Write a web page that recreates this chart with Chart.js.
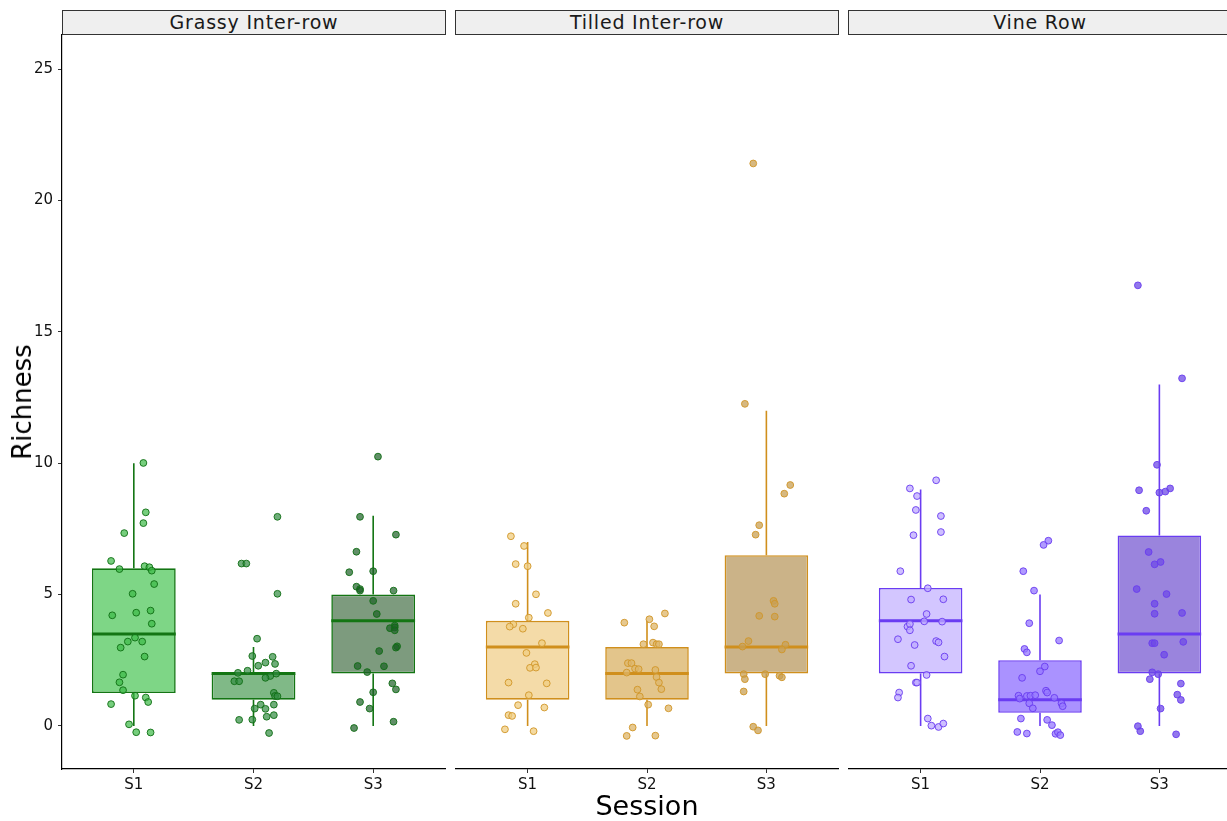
<!DOCTYPE html>
<html>
<head>
<meta charset="utf-8">
<script src="https://cdn.jsdelivr.net/npm/chart.js@4/dist/chart.umd.min.js"></script>
<style>
    body { margin: 0; width: 1227px; height: 821px; overflow: hidden; background: #fff; font-family: "DejaVu Sans", Verdana, sans-serif; position: relative; }
    .panel { position: absolute; top: 20px; height: 785px; }
    .strip { position: absolute; top: 10px; height: 25px; box-sizing: border-box; border: 1px solid #333; background: #efefef; color: #1a1a1a; font-size: 19px; letter-spacing: 0.8px; text-align: center; line-height: 23px; }
    .ytitle { position: absolute; left: 22px; top: 402px; transform: translate(-50%, -50%) rotate(-90deg); font-size: 26px; color: #000; white-space: nowrap; }
    .xtitle { position: absolute; left: 647px; top: 805px; transform: translate(-50%, -50%); font-size: 27px; color: #000; white-space: nowrap; }
</style>
</head>
<body>
<div class="strip" style="left:62px;width:384px">Grassy Inter-row</div>
<div class="strip" style="left:455px;width:384px">Tilled Inter-row</div>
<div class="strip" style="left:848px;width:384px">Vine Row</div>
<div class="panel" style="left:0px;width:450px"><canvas id="grassy"></canvas></div>
<div class="panel" style="left:451px;width:392px"><canvas id="tilled"></canvas></div>
<div class="panel" style="left:844px;width:392px"><canvas id="vine"></canvas></div>
<div class="ytitle">Richness</div>
<div class="xtitle">Session</div>
<script>
const sessions = ['S1', 'S2', 'S3']
const yTicks = [0, 5, 10, 15, 20, 25]

// box stats per session: [lower whisker, q1, median, q3, upper whisker]
const grassyBox = [[0, 1.25, 3.5, 6, 10], [0, 1, 2, 2, 3], [0, 2, 4, 5, 8]]
const tilledBox = [[0, 1, 3, 4, 7], [0, 1, 2, 3, 4], [0, 2, 3, 6.5, 12]]
const vineBox = [[0, 2, 4, 5.25, 9], [0, 0.5, 1, 2.5, 5], [0, 2, 3.5, 7.25, 13]]

// jittered points: [jitter, richness]
const grassyS1 = [[0.08,10.01],[0.10,8.13],[0.08,7.72],[-0.08,7.34],[-0.19,6.28],[-0.12,5.97],[0.09,6.08],[0.13,6.04],[0.15,5.91],[0.17,5.40],[-0.01,5.03],[-0.18,4.21],[0.02,4.31],[0.14,4.39],[0.15,3.89],[0.01,3.36],[-0.05,3.21],[0.07,3.21],[-0.11,2.98],[0.09,2.64],[-0.09,1.95],[-0.12,1.66],[-0.09,1.36],[0.01,1.15],[0.10,1.08],[0.12,0.91],[-0.19,0.83],[-0.04,0.06],[0.02,-0.24],[0.14,-0.25]]
const grassyS2 = [[0.20,7.96],[-0.10,6.18],[-0.06,6.18],[0.20,5.03],[0.03,3.32],[-0.01,2.66],[0.16,2.63],[0.10,2.41],[0.18,2.36],[0.04,2.29],[-0.05,2.10],[-0.13,2.02],[0.19,1.99],[0.14,1.90],[0.10,1.83],[-0.16,1.70],[-0.12,1.70],[0.17,1.26],[0.18,1.14],[0.20,1.13],[0.06,0.81],[0.17,0.81],[0.10,0.65],[0.01,0.66],[0.17,0.41],[0.11,0.35],[-0.12,0.23],[-0.01,0.24],[0.13,-0.27]]
const grassyS3 = [[0.04,10.25],[-0.11,7.96],[0.19,7.28],[-0.14,6.63],[-0.20,5.85],[0.00,5.89],[-0.14,5.30],[-0.11,5.21],[-0.11,5.15],[0.17,5.15],[0.00,4.76],[0.03,4.26],[0.18,3.82],[0.18,3.75],[0.14,3.72],[0.18,3.64],[0.20,3.03],[0.19,2.98],[0.05,2.85],[-0.13,2.28],[0.09,2.27],[-0.05,2.05],[0.16,1.62],[0.19,1.39],[0.00,1.28],[-0.11,0.91],[-0.03,0.66],[0.17,0.16],[-0.16,-0.08]]

const tilledS1 = [[-0.14,7.22],[-0.03,6.85],[-0.10,6.16],[0.00,6.08],[0.07,5.01],[-0.10,4.65],[0.17,4.30],[0.01,4.12],[-0.12,3.87],[-0.15,3.78],[-0.04,3.70],[0.12,3.15],[-0.01,2.78],[0.06,2.35],[0.02,2.21],[0.07,2.22],[-0.16,1.65],[0.16,1.62],[0.01,1.17],[-0.08,0.79],[0.14,0.70],[-0.16,0.41],[-0.13,0.38],[-0.19,-0.13],[0.05,-0.20]]
const tilledS2 = [[-0.19,3.93],[0.02,4.06],[-0.03,3.11],[-0.16,2.39],[-0.13,2.39],[-0.10,2.18],[-0.07,2.16],[-0.17,2.03],[-0.08,1.38],[-0.06,1.12],[0.01,0.81],[-0.12,-0.06],[-0.17,-0.38],[0.15,4.28],[0.06,3.79],[0.05,3.17],[0.08,3.11],[0.10,3.11],[0.07,2.13],[0.08,1.86],[0.10,1.65],[0.12,1.40],[0.18,0.67],[0.07,-0.37]]
const tilledS3 = [[-0.11,21.41],[-0.18,12.26],[0.20,9.17],[0.15,8.84],[-0.06,7.64],[-0.09,7.28],[0.06,4.76],[0.07,4.65],[-0.06,4.19],[0.07,4.16],[-0.15,3.23],[-0.20,3.02],[0.16,3.09],[0.13,2.91],[-0.19,1.97],[-0.18,1.78],[-0.01,1.97],[0.11,1.91],[0.13,1.85],[-0.19,1.31],[-0.11,-0.03],[-0.07,-0.17]]

const vineS1 = [[0.13,9.35],[-0.09,9.04],[-0.03,8.75],[-0.04,8.22],[0.17,7.99],[0.17,7.38],[-0.06,7.26],[-0.17,5.89],[0.06,5.24],[-0.08,4.81],[0.19,4.82],[0.05,4.26],[0.03,3.98],[0.18,3.97],[-0.11,3.78],[-0.09,3.88],[-0.09,3.64],[-0.19,3.30],[0.13,3.23],[0.15,3.18],[-0.05,3.08],[0.20,2.64],[-0.08,2.29],[0.05,1.94],[-0.04,1.65],[-0.03,1.65],[-0.18,1.27],[-0.19,1.08],[0.06,0.28],[0.09,0.01],[0.15,-0.04],[0.19,0.09]]
const vineS2 = [[-0.14,5.89],[-0.05,5.15],[-0.09,3.91],[-0.13,2.93],[-0.11,2.80],[-0.15,1.83],[-0.18,1.15],[-0.17,1.04],[-0.11,1.14],[-0.08,1.15],[-0.09,0.86],[-0.06,0.67],[-0.16,0.28],[-0.19,-0.23],[-0.11,-0.29],[0.07,7.05],[0.03,6.89],[0.16,3.25],[0.04,2.26],[0.00,2.08],[0.05,1.34],[0.06,1.27],[-0.04,1.17],[0.12,1.07],[0.18,0.86],[0.19,0.75],[0.06,0.23],[0.10,0.03],[0.13,-0.30],[0.15,-0.24],[0.17,-0.35]]
const vineS3 = [[-0.18,16.77],[0.19,13.23],[-0.02,9.94],[-0.17,8.97],[0.00,8.88],[0.05,8.92],[0.09,9.04],[-0.11,8.19],[-0.09,6.62],[-0.04,6.15],[0.01,6.24],[-0.19,5.21],[0.06,5.02],[-0.04,4.65],[-0.04,4.27],[0.19,4.30],[-0.06,3.15],[-0.04,3.15],[0.20,3.20],[0.04,2.71],[-0.06,2.04],[-0.01,1.97],[-0.08,1.78],[0.18,1.61],[0.15,1.19],[0.18,0.99],[0.01,0.66],[-0.18,-0.01],[-0.16,-0.20],[0.14,-0.32]]

const boxWidth = 0.7

function makePanel(id, box, points, line, fills, dotFills, dotLine, showY) {
    let datasets = []
    for (let i = 0; i < 3; i++) {
        datasets.push({
            type: 'scatter',
            data: points[i].map(p => ({ x: i + 1 + p[0], y: p[1] })),
            pointRadius: 3.4,
            pointBorderWidth: 1,
            pointBackgroundColor: dotFills[i],
            pointBorderColor: dotLine
        })
    }
    let medians = []
    let whiskers = []
    for (let i = 0; i < 3; i++) {
        let b = box[i]
        medians.push({ x: i + 1 - boxWidth / 2, y: b[2] }, { x: i + 1 + boxWidth / 2, y: b[2] }, { x: i + 1, y: null })
        whiskers.push({ x: i + 1, y: b[0] }, { x: i + 1, y: b[1] }, { x: i + 1, y: null })
        whiskers.push({ x: i + 1, y: b[3] }, { x: i + 1, y: b[4] }, { x: i + 1, y: null })
    }
    datasets.push({ type: 'line', data: medians, borderColor: line, borderWidth: 3, pointRadius: 0, borderCapStyle: 'butt' })
    datasets.push({
        type: 'bar',
        data: box.map((b, i) => ({ x: i + 1, y: [b[1], b[3]] })),
        backgroundColor: fills,
        borderColor: line,
        borderWidth: 1.6,
        borderSkipped: false,
        categoryPercentage: 1,
        barPercentage: boxWidth
    })
    datasets.push({ type: 'line', data: whiskers, borderColor: line, borderWidth: 1.6, pointRadius: 0 })

    new Chart(document.getElementById(id), {
        type: 'bar',
        data: { datasets: datasets },
        options: {
            responsive: true,
            maintainAspectRatio: false,
            animation: false,
            layout: { padding: { top: 15, left: 0, right: 0, bottom: 0 } },
            plugins: { legend: { display: false }, tooltip: { enabled: false } },
            scales: {
                x: {
                    type: 'linear',
                    offset: false,
                    min: 0.4,
                    max: 3.6,
                    afterBuildTicks: s => { s.ticks = sessions.map((n, i) => ({ value: i + 1 })) },
                    afterFit: s => { s.height = 36 },
                    ticks: { callback: v => sessions[v - 1], font: { family: 'DejaVu Sans', size: 15 }, color: '#111', padding: 3, maxRotation: 0 },
                    grid: { display: true, offset: false, drawOnChartArea: false, tickLength: 4, color: '#333' },
                    border: { display: true, color: '#000', width: 1.2 }
                },
                y: {
                    display: showY,
                    min: -1.64,
                    max: 26.3,
                    afterBuildTicks: s => { s.ticks = yTicks.map(v => ({ value: v })) },
                    afterFit: s => { if (showY) s.width = 62 },
                    ticks: { font: { family: 'DejaVu Sans', size: 15 }, color: '#111', padding: 5 },
                    grid: { display: true, drawOnChartArea: false, tickLength: 4, color: '#333' },
                    border: { display: true, color: '#000', width: 1.2 }
                }
            }
        }
    })
}

makePanel('grassy', grassyBox, [grassyS1, grassyS2, grassyS3], '#137513',
    ['#7ed686', '#80b987', '#7d9b7e'],
    ['rgba(60,185,70,0.7)', 'rgba(50,140,65,0.7)', 'rgba(30,95,40,0.7)'], 'rgba(15,110,20,0.9)', true)
makePanel('tilled', tilledBox, [tilledS1, tilledS2, tilledS3], '#d08f1c',
    ['#f4dba8', '#e3c58b', '#cbb388'],
    ['rgba(240,205,130,0.75)', 'rgba(222,182,105,0.75)', 'rgba(200,160,85,0.75)'], 'rgba(208,150,40,0.9)', false)
makePanel('vine', vineBox, [vineS1, vineS2, vineS3], '#6a3cf2',
    ['#d3c6ff', '#aa92ff', '#9a84dd'],
    ['rgba(190,170,255,0.75)', 'rgba(150,120,255,0.75)', 'rgba(110,75,230,0.75)'], 'rgba(105,60,240,0.9)', false)
</script>
</body>
</html>
